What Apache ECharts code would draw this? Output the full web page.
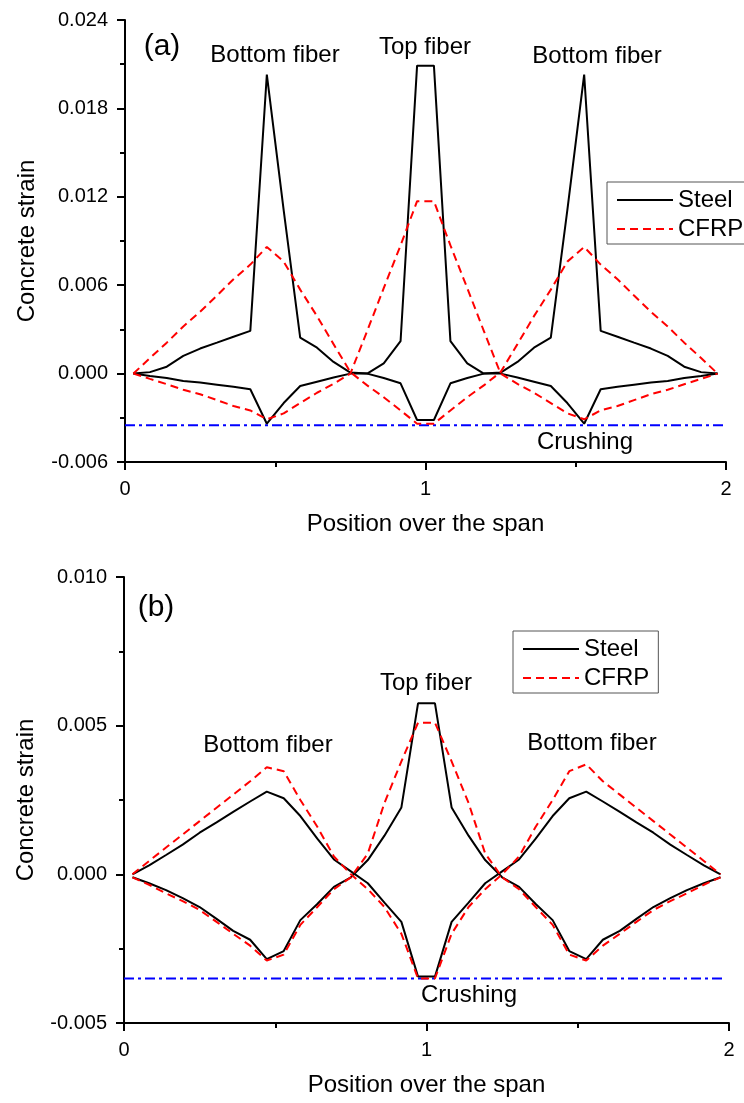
<!DOCTYPE html>
<html>
<head>
<meta charset="utf-8">
<script src="https://cdn.jsdelivr.net/npm/echarts@6/dist/echarts.min.js"></script>
<style>
html,body{margin:0;padding:0;background:#fff;}
#chart{width:744px;height:1103px;}
</style>
</head>
<body>
<div id="chart"></div>
<script>
// Positions along the span (same sampling for all curves)
const xPos = [0.028,0.083,0.139,0.194,0.250,0.306,0.361,0.417,0.472,0.528,0.583,0.639,0.694,0.750,0.806,0.861,0.917,0.972,
              1.028,1.083,1.139,1.194,1.250,1.306,1.361,1.417,1.472,1.528,1.583,1.639,1.694,1.750,1.806,1.861,1.917,1.972];

// Panel (a)
const steelBottomA = [0,0.0001,0.00047,0.0012,0.0017,0.0021,0.0025,0.0029,0.0203,0.0111,0.00244,0.00176,0.00079,0.00007,0,-0.0003,-0.00066,-0.00315,
                      -0.00315,-0.00066,-0.0003,0,0.00007,0.00079,0.00176,0.00244,0.0111,0.0203,0.0029,0.0025,0.0021,0.0017,0.0012,0.00047,0.0001,0];
const steelTopA    = [0,-0.00016,-0.0003,-0.0005,-0.0006,-0.00075,-0.0009,-0.00106,-0.0034,-0.002,-0.00084,-0.00055,-0.00027,0,0,0.0007,0.0022,0.0209,
                      0.0209,0.0022,0.0007,0,0,-0.00027,-0.00055,-0.00084,-0.002,-0.0034,-0.00106,-0.0009,-0.00075,-0.0006,-0.0005,-0.0003,-0.00016,0];
const cfrpBottomA  = [0,0.00106,0.0021,0.0032,0.0042,0.0053,0.0064,0.0074,0.0086,0.0076,0.0057,0.0039,0.002,0.0001,-0.0008,-0.0016,-0.0025,-0.0034,
                      -0.0034,-0.0025,-0.0016,-0.0008,0.0001,0.002,0.0039,0.0057,0.0076,0.0086,0.0074,0.0064,0.0053,0.0042,0.0032,0.0021,0.00106,0];
const cfrpTopA     = [0,-0.00036,-0.00072,-0.0011,-0.0014,-0.0018,-0.0022,-0.0025,-0.0031,-0.0027,-0.002,-0.0013,-0.0007,0,0.0029,0.0058,0.0087,0.0117,
                      0.0117,0.0087,0.0058,0.0029,0,-0.0007,-0.0013,-0.002,-0.0027,-0.0031,-0.0025,-0.0022,-0.0018,-0.0014,-0.0011,-0.00072,-0.00036,0];

// Panel (b)
const steelBottomB = [0,0.0003,0.00065,0.001,0.0014,0.00175,0.0021,0.00245,0.00278,0.00256,0.00196,0.0012,0.0005,0.0001,-0.0003,-0.00095,-0.0016,-0.00344,
                      -0.00344,-0.0016,-0.00095,-0.0003,0.0001,0.0005,0.0012,0.00196,0.00256,0.00278,0.00245,0.0021,0.00175,0.0014,0.001,0.00065,0.0003,0];
const steelTopB    = [-0.0001,-0.0003,-0.00053,-0.0008,-0.0011,-0.0015,-0.0019,-0.0022,-0.00285,-0.00258,-0.00154,-0.001,-0.00042,-0.0001,0.00048,0.0013,0.00225,0.00575,
                      0.00575,0.00225,0.0013,0.00048,-0.0001,-0.00042,-0.001,-0.00154,-0.00258,-0.00285,-0.0022,-0.0019,-0.0015,-0.0011,-0.0008,-0.00053,-0.0003,-0.0001];
const cfrpBottomB  = [0,0.00045,0.0009,0.00134,0.00179,0.00224,0.00268,0.00313,0.0036,0.00347,0.0025,0.0016,0.0006,0,-0.0005,-0.0011,-0.002,-0.0035,
                      -0.0035,-0.002,-0.0011,-0.0005,0,0.0006,0.0016,0.0025,0.00347,0.0037,0.00313,0.00268,0.00224,0.00179,0.00134,0.0009,0.00045,0];
const cfrpTopB     = [-0.0001,-0.00035,-0.00064,-0.0009,-0.0012,-0.0016,-0.002,-0.0024,-0.0029,-0.0027,-0.0017,-0.0011,-0.0005,-0.0001,0.0007,0.0024,0.0038,0.0051,
                      0.0051,0.0038,0.0024,0.0007,-0.0001,-0.0005,-0.0011,-0.0017,-0.0027,-0.0029,-0.0024,-0.002,-0.0016,-0.0012,-0.0009,-0.00064,-0.00035,-0.0001];

const crushStrain = -0.0035;
const crushSpan = [0, 1.99];

const yTicksA = {min:-0.006, max:0.024, interval:0.006};
const yTicksB = {min:-0.005, max:0.010, interval:0.005};
const xTicks = {min:0, max:2, interval:1};
const legendNames = ['Steel','CFRP'];

const FONT = "'Liberation Sans', Arial, sans-serif";
const zip = (xs, ys) => xs.map((x, i) => [x, ys[i]]);

function xAxisCfg(gi){
  return {
    type:'value', gridIndex:gi, min:xTicks.min, max:xTicks.max, interval:xTicks.interval,
    name:'Position over the span', nameLocation:'middle', nameGap:50,
    nameTextStyle:{fontSize:24, color:'#000', fontFamily:FONT},
    axisLine:{onZero:false, lineStyle:{color:'#000', width:2}},
    axisTick:{show:true, length:8, lineStyle:{color:'#000', width:2}},
    minorTick:{show:true, splitNumber:2, length:5, lineStyle:{color:'#000', width:2}},
    splitLine:{show:false}, minorSplitLine:{show:false},
    axisLabel:{fontSize:20, color:'#000', fontFamily:FONT, margin:17, formatter:v=>String(v)}
  };
}
function yAxisCfg(gi, t){
  return {
    type:'value', gridIndex:gi, min:t.min, max:t.max, interval:t.interval,
    name:'Concrete strain', nameLocation:'middle', nameGap:86,
    nameTextStyle:{fontSize:24, color:'#000', fontFamily:FONT},
    axisLine:{show:true, onZero:false, lineStyle:{color:'#000', width:2}},
    axisTick:{show:true, length:8, lineStyle:{color:'#000', width:2}},
    minorTick:{show:true, splitNumber:2, length:5, lineStyle:{color:'#000', width:2}},
    splitLine:{show:false}, minorSplitLine:{show:false},
    axisLabel:{fontSize:20, color:'#000', fontFamily:FONT, margin:17, formatter:v=>v.toFixed(3)}
  };
}
function steel(gi, ys){
  return {type:'line', name:'Steel', xAxisIndex:gi, yAxisIndex:gi, data:zip(xPos, ys), symbol:'none',
          lineStyle:{color:'#000', width:2}, itemStyle:{color:'#000'}, z:2};
}
function cfrp(gi, ys){
  return {type:'line', name:'CFRP', xAxisIndex:gi, yAxisIndex:gi, data:zip(xPos, ys), symbol:'none',
          lineStyle:{color:'#ff0000', width:2, type:[8,5]}, itemStyle:{color:'#ff0000'}, z:3};
}
function crush(gi){
  return {type:'line', xAxisIndex:gi, yAxisIndex:gi, data:crushSpan.map(x=>[x, crushStrain]), symbol:'none',
          lineStyle:{color:'#0000ff', width:2, type:[10,4,3,4]}, itemStyle:{color:'#0000ff'}, z:1};
}
function legendCfg(left, top){
  return {data:legendNames, orient:'vertical', left:left, top:top, itemWidth:56, itemHeight:24, itemGap:5,
          padding:[6,9,3,9], borderColor:'#555', borderWidth:1, backgroundColor:'#fff', selectedMode:false,
          itemStyle:{opacity:0, borderWidth:0},
          textStyle:{fontSize:24, color:'#000', fontFamily:FONT}};
}
function txt(s, x, y, size){
  return {type:'text', x:x, y:y, style:{text:s, fontSize:size||24, fontFamily:FONT, fill:'#000', align:'center', verticalAlign:'middle'}};
}

const chart = echarts.init(document.getElementById('chart'), null, {renderer:'canvas'});
chart.setOption({
  animation:false,
  backgroundColor:'#fff',
  grid:[{left:125, right:18, top:20, bottom:641}, {left:124, right:15, top:577, bottom:80}],
  xAxis:[xAxisCfg(0), xAxisCfg(1)],
  yAxis:[yAxisCfg(0, yTicksA), yAxisCfg(1, yTicksB)],
  legend:[legendCfg(607, 182), legendCfg(513, 631)],
  series:[
    crush(0), steel(0, steelBottomA), steel(0, steelTopA), cfrp(0, cfrpBottomA), cfrp(0, cfrpTopA),
    crush(1), steel(1, steelBottomB), steel(1, steelTopB), cfrp(1, cfrpBottomB), cfrp(1, cfrpTopB)
  ],
  graphic:[
    txt('(a)', 162, 47, 30),
    txt('Bottom fiber', 275, 55),
    txt('Top fiber', 425, 47),
    txt('Bottom fiber', 597, 56),
    txt('Crushing', 585, 442),
    txt('(b)', 156, 608, 30),
    txt('Bottom fiber', 268, 745),
    txt('Top fiber', 426, 683),
    txt('Bottom fiber', 592, 743),
    txt('Crushing', 469, 995)
  ]
});
</script>
</body>
</html>
